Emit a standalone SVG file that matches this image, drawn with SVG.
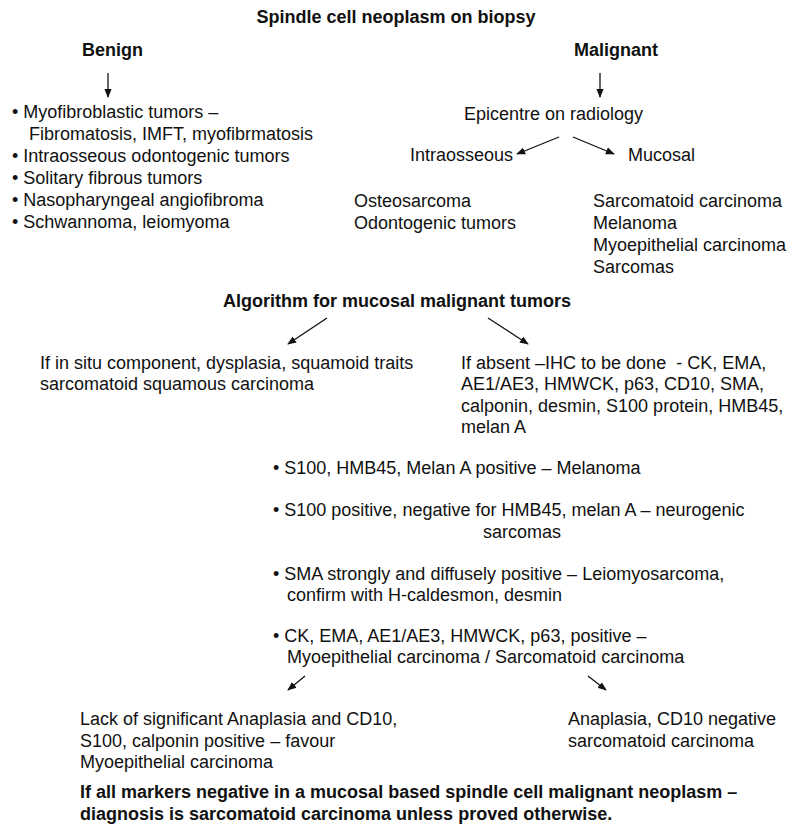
<svg xmlns="http://www.w3.org/2000/svg" width="792" height="830" viewBox="0 0 792 830">
<style>
text{font-family:"Liberation Sans",Arial,Helvetica,sans-serif;font-size:18px;fill:#111}
.b{font-weight:bold}
.c{text-anchor:middle}
.ar{stroke:#111;stroke-width:1.3;fill:none;marker-end:url(#ah)}
</style>
<defs>
<marker id="ah" viewBox="0 0 10 10" refX="9" refY="5" markerWidth="9" markerHeight="9" markerUnits="userSpaceOnUse" orient="auto">
<path d="M0,1 L10,5 L0,9 z" fill="#111"/>
</marker>
</defs>
<rect width="792" height="830" fill="#fff"/>
<g id="title"><text class="b c" x="396" y="23">Spindle cell neoplasm on biopsy</text></g>
<g id="benign"><text class="b" x="82" y="56">Benign</text></g>
<g id="malignant"><text class="b" x="574" y="56">Malignant</text></g>
<g id="benign-list">
<text x="12" y="118">• Myofibroblastic tumors –</text>
<text x="29" y="140">Fibromatosis, IMFT, myofibrmatosis</text>
<text x="12" y="162">• Intraosseous odontogenic tumors</text>
<text x="12" y="184">• Solitary fibrous tumors</text>
<text x="12" y="206">• Nasopharyngeal angiofibroma</text>
<text x="12" y="228">• Schwannoma, leiomyoma</text>
</g>
<g id="epicentre"><text x="464" y="120">Epicentre on radiology</text></g>
<g id="intraosseous"><text x="410" y="161">Intraosseous</text></g>
<g id="mucosal"><text x="628" y="161">Mucosal</text></g>
<g id="intraosseous-list">
<text x="354" y="207">Osteosarcoma</text>
<text x="354" y="229">Odontogenic tumors</text>
</g>
<g id="mucosal-list">
<text x="593" y="207">Sarcomatoid carcinoma</text>
<text x="593" y="229">Melanoma</text>
<text x="593" y="251">Myoepithelial carcinoma</text>
<text x="593" y="273">Sarcomas</text>
</g>
<g id="algorithm"><text class="b c" x="397" y="307">Algorithm for mucosal malignant tumors</text></g>
<g id="insitu">
<text x="40" y="369">If in situ component, dysplasia, squamoid traits</text>
<text x="40" y="390">sarcomatoid squamous carcinoma</text>
</g>
<g id="absent">
<text x="461" y="369">If absent –IHC to be done &#160;- CK, EMA,</text>
<text x="461" y="390">AE1/AE3, HMWCK, p63, CD10, SMA,</text>
<text x="461" y="412">calponin, desmin, S100 protein, HMB45,</text>
<text x="461" y="433">melan A</text>
</g>
<g id="ihc-results">
<text x="273" y="474">• S100, HMB45, Melan A positive – Melanoma</text>
<text x="273" y="516">• S100 positive, negative for HMB45, melan A – neurogenic</text>
<text x="483" y="538">sarcomas</text>
<text x="273" y="580">• SMA strongly and diffusely positive – Leiomyosarcoma,</text>
<text x="287" y="601">confirm with H-caldesmon, desmin</text>
<text x="273" y="642">• CK, EMA, AE1/AE3, HMWCK, p63, positive –</text>
<text x="287" y="663">Myoepithelial carcinoma / Sarcomatoid carcinoma</text>
</g>
<g id="myoepithelial">
<text x="80" y="725">Lack of significant Anaplasia and CD10,</text>
<text x="80" y="747">S100, calponin positive – favour</text>
<text x="80" y="768">Myoepithelial carcinoma</text>
</g>
<g id="sarcomatoid">
<text x="568" y="725">Anaplasia, CD10 negative</text>
<text x="568" y="747">sarcomatoid carcinoma</text>
</g>
<g id="conclusion">
<text class="b" x="80" y="798">If all markers negative in a mucosal based spindle cell malignant neoplasm –</text>
<text class="b" x="80" y="820">diagnosis is sarcomatoid carcinoma unless proved otherwise.</text>
</g>
<g id="connectors">
<line class="ar" x1="108" y1="73" x2="108" y2="97"/>
<line class="ar" x1="600" y1="73" x2="600" y2="97"/>
<line class="ar" x1="559" y1="137" x2="517" y2="154"/>
<line class="ar" x1="573" y1="137" x2="614" y2="154"/>
<line class="ar" x1="327" y1="318" x2="288" y2="344"/>
<line class="ar" x1="488" y1="318" x2="528" y2="344"/>
<line class="ar" x1="305" y1="676" x2="288" y2="690"/>
<line class="ar" x1="588" y1="676" x2="606" y2="690"/>
</g>
</svg>
